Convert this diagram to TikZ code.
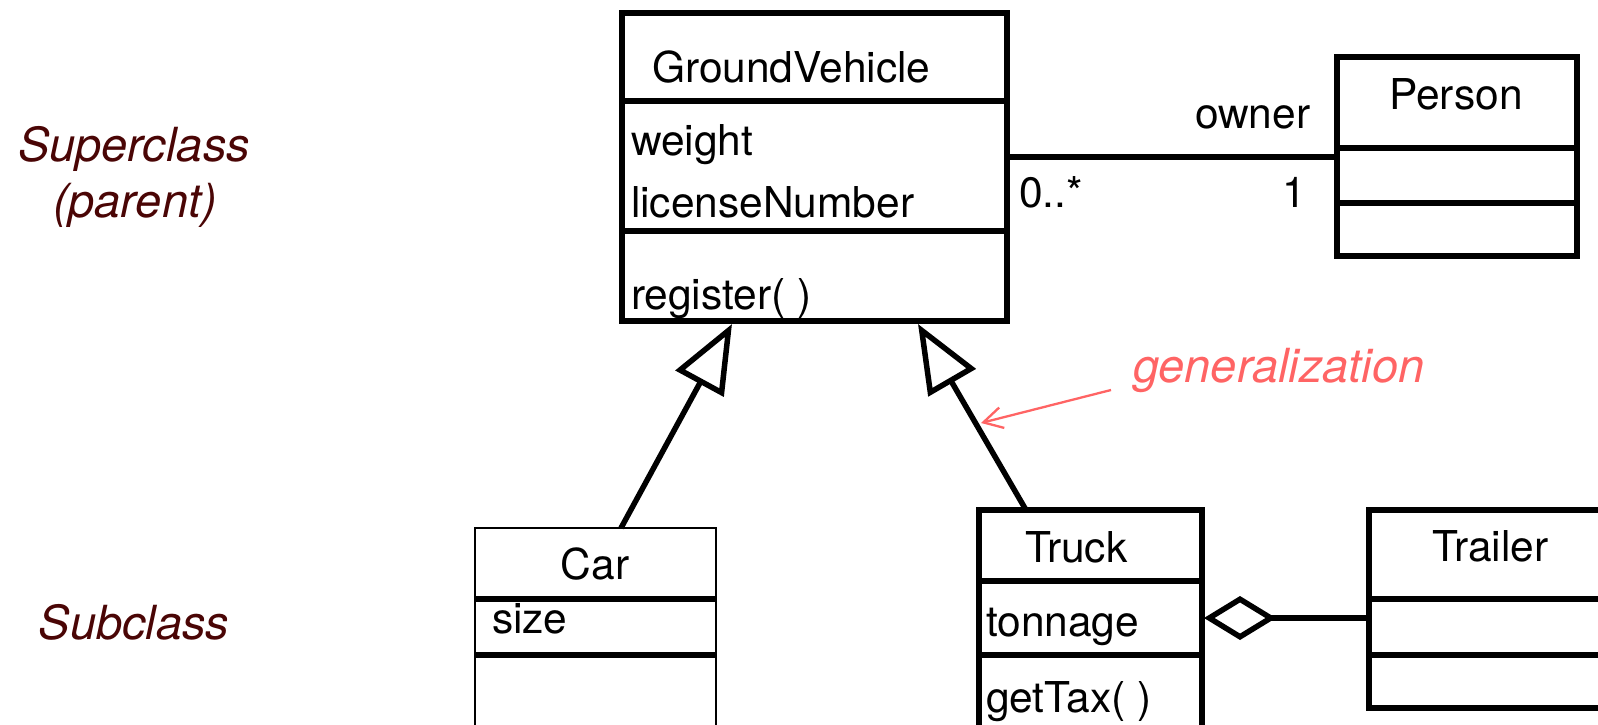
\documentclass[tikz,border=0pt]{standalone}
\usepackage{fontspec}
\setmainfont{TeX Gyre Heros}
\usetikzlibrary{arrows.meta,calc}
\definecolor{labred}{HTML}{4A0505}
\definecolor{genred}{HTML}{FF6464}
\begin{document}
\begin{tikzpicture}[x=1pt,y=-1pt,
  cls/.style={draw, line width=5.5pt, inner sep=0pt, outer sep=0pt, anchor=north west},
  divider/.style={line width=5.5pt},
  txt/.style={inner sep=0pt, outer sep=0pt, anchor=base west, font=\fontsize{42.5}{42.5}\selectfont},
  side/.style={inner sep=0pt, outer sep=0pt, anchor=base, text=labred, font=\fontsize{47}{47}\selectfont\itshape},
  gen/.style={line width=5.5pt, -{Triangle[open, length=68pt, width=54pt, line join=miter]}},
  agg/.style={line width=5.5pt, -{Diamond[open, length=72pt, width=44pt, line join=miter]}},
  assoc/.style={line width=5.5pt},
  note/.style={line width=2.3pt, draw=genred, -{Straight Barb[length=19pt, width=21pt, line width=2.3pt]}}
]
\useasboundingbox (0,0) rectangle (1598,725);
\clip (0,0) rectangle (1598,725);

% class boxes
\node[cls, minimum width=385pt, minimum height=308pt] (gv) at (622,13) {};
\node[cls, minimum width=240pt, minimum height=199pt] (person) at (1337,57) {};
\node[cls, line width=2.5pt, minimum width=241pt, minimum height=230pt] (car) at (475,528) {};
\node[cls, minimum width=223pt, minimum height=240pt] (truck) at (979,510) {};
\node[cls, minimum width=260pt, minimum height=198pt] (trailer) at (1369,510) {};

% compartment dividers
\draw[divider] ($(gv.north west)+(0,88)$) -- ($(gv.north east)+(0,88)$);
\draw[divider] ($(gv.north west)+(0,218)$) -- ($(gv.north east)+(0,218)$);
\draw[divider] ($(person.north west)+(0,91)$) -- ($(person.north east)+(0,91)$);
\draw[divider] ($(person.north west)+(0,146)$) -- ($(person.north east)+(0,146)$);
\draw[divider] ($(car.north west)+(0,71)$) -- ($(car.north east)+(0,71)$);
\draw[divider] ($(car.north west)+(0,127)$) -- ($(car.north east)+(0,127)$);
\draw[divider] ($(truck.north west)+(0,71)$) -- ($(truck.north east)+(0,71)$);
\draw[divider] ($(truck.north west)+(0,145)$) -- ($(truck.north east)+(0,145)$);
\draw[divider] ($(trailer.north west)+(0,89)$) -- ($(trailer.north east)+(0,89)$);
\draw[divider] ($(trailer.north west)+(0,145)$) -- ($(trailer.north east)+(0,145)$);

% class texts
\node[txt] (gvname) at (652,82) {GroundVehicle};
\node[txt] (gvweight) at (631,155) {weight};
\node[txt] (gvlic) at (631,217) {licenseNumber};
\node[txt] (gvreg) at (631,309) {register( )};
\node[txt, anchor=base] (pname) at (1456,109) {Person};
\node[txt, anchor=base] (carname) at (595,579) {Car};
\node[txt] (carsize) at (492,633) {size};
\node[txt] (truckname) at (1025,562) {Truck};
\node[txt] (trucktonn) at (986,636) {tonnage};
\node[txt] (trucktax) at (986,712) {getTax( )};
\node[txt] (trailername) at (1432,561) {Trailer};

% association GroundVehicle -- Person
\draw[assoc] ($(gv.north east)+(0,144)$) -- ($(person.north west)+(0,100)$);
\node[txt] (owner) at (1195,128) {owner};
\node[txt] (mult0) at (1019,207) {0..*};
\node[txt] (mult1) at (1282,207) {1};

% generalizations
\draw[gen] ($(car.north west)+(146,0)$) -- ($(gv.south west)+(110,3)$);
\draw[gen] ($(truck.north west)+(47,0)$) -- ($(gv.south west)+(296,3)$);

% aggregation Truck <>-- Trailer
\draw[agg] ($(trailer.north west)+(0,108)$) -- ($(truck.north east)+(2,108)$);

% side labels
\node[side] (sup1) at (134,161) {Superclass};
\node[side] (sup2) at (135,217) {(parent)};
\node[side] (sub) at (134,639) {Subclass};

% generalization note
\node[side, anchor=base west, text=genred] (genlabel) at (1133,382) {generalization};
\coordinate (notestart) at (1111,390);
\coordinate (notetip) at (981,423);
\draw[note] (notestart) -- (notetip);
\end{tikzpicture}
\end{document}
